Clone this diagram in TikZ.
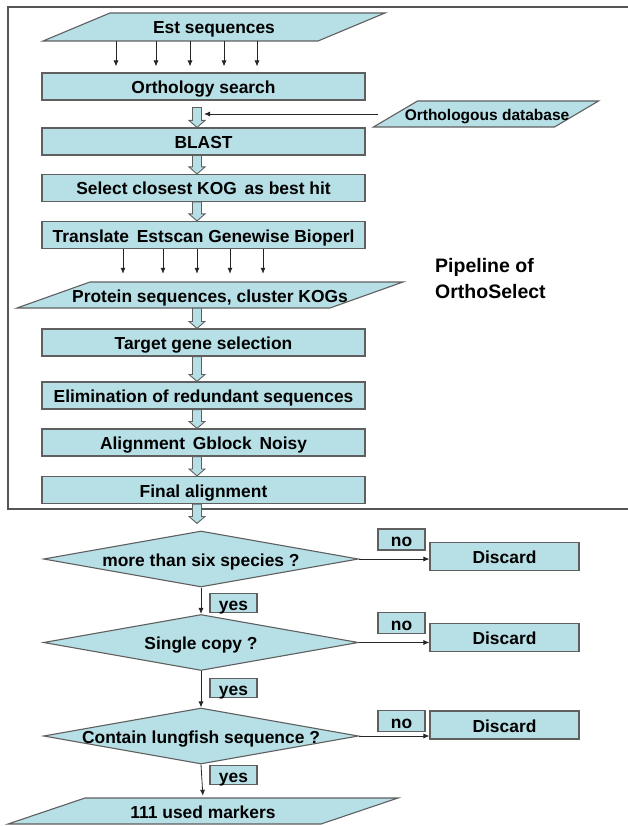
\documentclass[tikz,border=0pt]{standalone}
\usepackage{fontspec}
\setmainfont{Liberation Sans}
\usetikzlibrary{shapes.geometric,arrows.meta,calc}
\definecolor{boxfill}{RGB}{183,223,230}
\definecolor{boxline}{RGB}{95,95,95}
\definecolor{frameline}{RGB}{85,85,85}
\newcommand\iopara[5]{\filldraw[iostyle] ({#1-#3/2-#5/2},{#2+#4/2}) -- ({#1+#3/2-#5/2},{#2+#4/2}) -- ({#1+#3/2+#5/2},{#2-#4/2}) -- ({#1-#3/2+#5/2},{#2-#4/2}) -- cycle;}
\newcommand\fatarrow[2]{\filldraw[fatstyle] let \p1=#1, \p2=#2 in (192.5pt,\y1) -- (201.5pt,\y1) -- (201.5pt,\y2+7pt) -- (205pt,\y2+7pt) -- (197pt,\y2) -- (189pt,\y2+7pt) -- (192.5pt,\y2+7pt) -- cycle;}
\begin{document}
\begin{tikzpicture}[x=1pt,y=-1pt,
  every node/.style={font=\fontsize{17.4}{20}\selectfont\bfseries, inner sep=0pt},
  txt/.style={text height=14pt, text depth=0pt},
  procbox/.style={txt, draw=boxline, fill=boxfill, line width=1.1pt, minimum width=323pt, minimum height=27pt},
  iotext/.style={txt},
  iostyle/.style={draw=boxline, fill=boxfill, line width=1.1pt},
  fatstyle/.style={draw=boxline, fill=boxfill, line width=0.9pt},
  decision/.style={txt, diamond, draw=boxline, fill=boxfill, line width=1.1pt, aspect=5.6, minimum width=315pt, minimum height=56pt},
  discardbox/.style={txt, draw=boxline, fill=boxfill, line width=1.1pt, minimum width=149pt, minimum height=28pt},
  labelbox/.style={txt, draw=boxline, fill=boxfill, line width=1.1pt, minimum width=47pt, minimum height=19pt},
  thinarrow/.style={draw=black!85, line width=0.8pt, -{Latex[length=6pt,width=5pt]}},
  frame/.style={draw=frameline, line width=1.3pt}
]
\useasboundingbox (0,0) rectangle (628,826);

% frame
\draw[frame] (628,7) -- (8,7) -- (8,509) -- (628,509);

% input parallelograms
\iopara{214}{27}{275}{28}{67}
\node[iotext, minimum width=275pt, minimum height=28pt] (est) at (214,27) {Est sequences};
\iopara{486}{114}{181}{26}{44}
\node[iotext, minimum width=181pt, minimum height=26pt, font=\fontsize{15.5}{18}\selectfont\bfseries, text height=12.5pt] (odb) at (487,114) {Orthologous database};

% process boxes
\node[procbox] (orth) at (203.5,86.5) {Orthology search};
\node[procbox] (blast) at (203.5,141.5) {BLAST};
\node[procbox] (kog) at (203.5,188) {Select closest KOG\, as best hit};
\node[procbox] (trans) at (203.5,235) {Translate\, Estscan Genewise Bioperl};

\iopara{210}{295}{313}{26}{73}
\node[iotext, minimum width=313pt, minimum height=26pt] (prot) at (210,295) {Protein sequences, cluster KOGs};

\node[procbox] (target) at (203.5,342.5) {Target gene selection};
\node[procbox] (elim) at (203.5,395.5) {Elimination of redundant sequences};
\node[procbox] (align) at (203.5,442.5) {Alignment\, Gblock\, Noisy};
\node[procbox] (final) at (203.5,490) {Final alignment};

\node[font=\fontsize{19.5}{26}\selectfont\bfseries, align=left, anchor=north west] (pipe) at (435,258) {Pipeline of\\OrthoSelect};

% thin arrows Est -> Orthology
\foreach \xx in {116,156,190,224,257}
  \draw[thinarrow, shorten >=6pt] (\xx,0 |- est.south) -- (\xx,0 |- orth.north);
% thin arrows Translate -> Protein
\foreach \xx in {123,163,197,230,263}
  \draw[thinarrow, shorten >=8pt] (\xx,0 |- trans.south) -- (\xx,0 |- prot.north);

% fat arrows
\fatarrow{($(orth.south)+(0,7)$)}{(blast.north)}
\fatarrow{(blast.south)}{(kog.north)}
\fatarrow{(kog.south)}{(trans.north)}
\fatarrow{(prot.south)}{(target.north)}
\fatarrow{(target.south)}{(elim.north)}
\fatarrow{(elim.south)}{(align.north)}
\fatarrow{(align.south)}{(final.north)}

% database arrow
\coordinate (odbin) at (378,114);
\coordinate (fatA) at (204,114);
\draw[thinarrow] (odbin) -- (fatA);

% decisions
\node[decision] (d1) at (201,559) {\makebox[0pt]{more than six species ?}};
\node[decision] (d2) at (201,642.5) {\makebox[0pt]{Single copy ?}};
\node[decision] (d3) at (201,736) {\makebox[0pt]{Contain lungfish sequence ?}};

\fatarrow{(final.south)}{($(d1.north)+(0,-7)$)}

\node[discardbox] (x1) at (504.5,556.5) {Discard};
\node[discardbox] (x2) at (504.5,637.5) {Discard};
\node[discardbox] (x3) at (504.5,725) {Discard};

\node[labelbox, minimum height=21pt] (n1) at (401.5,539.5) {no};
\node[labelbox, minimum height=21pt] (n2) at (401.5,623) {no};
\node[labelbox, minimum height=21pt] (n3) at (401.5,721) {no};

\node[labelbox] (y1) at (233.5,603) {yes};
\node[labelbox] (y2) at (233.5,688) {yes};
\node[labelbox] (y3) at (233.5,775) {yes};

\draw[thinarrow] (d1.east) -- (d1.east -| x1.west);
\draw[thinarrow] (d2.east) -- (d2.east -| x2.west);
\draw[thinarrow] (d3.east) -- (d3.east -| x3.west);

\iopara{203}{811}{313}{26}{77}
\node[iotext, minimum width=313pt, minimum height=26pt] (mk) at (203,811) {111 used markers};

\draw[thinarrow] (d1.south) -- (d2.north);
\draw[thinarrow] (d2.south) -- (d3.north);
\draw[thinarrow, shorten >=2pt] (d3.south) -- (mk.north);
\end{tikzpicture}
\end{document}
